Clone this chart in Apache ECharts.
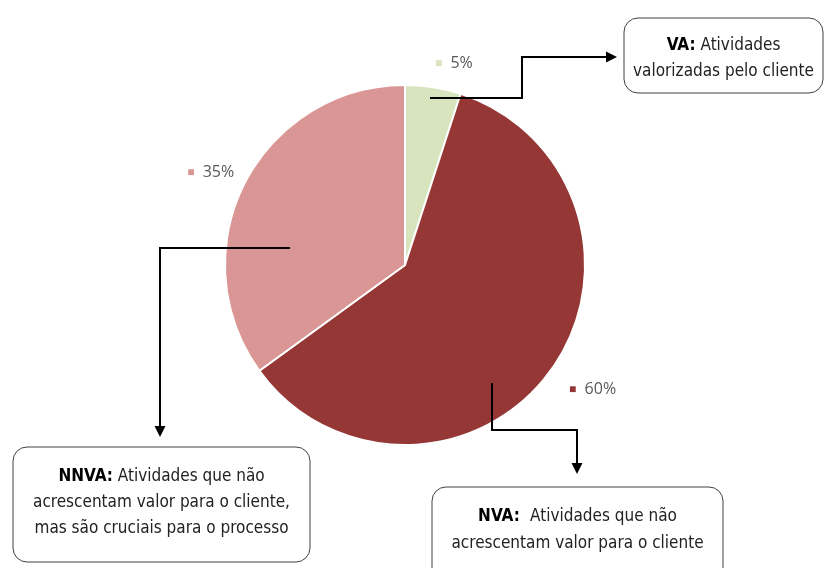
<!DOCTYPE html>
<html>
<head>
<meta charset="utf-8">
<script src="https://cdn.jsdelivr.net/npm/echarts@6/dist/echarts.min.js"></script>
<style>html,body{margin:0;padding:0;background:#fff}#c{width:827px;height:568px}</style>
</head>
<body>
<div id="c"></div>
<script>
const categories = ['VA', 'NVA', 'NNVA'];
const values = [5, 60, 35];
const colors = ['#d7e4bd', '#953735', '#d99694'];
const boxTitles = ['VA:', 'NVA: ', 'NNVA:'];
const boxTexts = [
  ['Atividades', 'valorizadas pelo cliente'],
  ['Atividades que não', 'acrescentam valor para o cliente'],
  ['Atividades que não', 'acrescentam valor para o cliente,', 'mas são cruciais para o processo']
];
const labelNudge = [[-11, 0], [-10, 5], [20, 0]];

const FONT = '"Liberation Sans Narrow", "DejaVu Sans Condensed", "Liberation Sans", sans-serif';
const chart = echarts.init(document.getElementById('c'), null, {renderer: 'canvas'});

function arrow(points, tip, dir) {
  const s = 11, w = 5.5;
  let tri;
  if (dir === 'right') tri = [[tip[0], tip[1]], [tip[0] - s, tip[1] - w], [tip[0] - s, tip[1] + w]];
  else tri = [[tip[0], tip[1]], [tip[0] - w, tip[1] - s], [tip[0] + w, tip[1] - s]];
  return [
    {type: 'polyline', shape: {points: points}, style: {stroke: '#000', lineWidth: 2, fill: null}, z: 10},
    {type: 'polygon', shape: {points: tri}, style: {fill: '#000'}, z: 10}
  ];
}

function box(x, y, w, h, idx, lineY) {
  const els = [{type: 'rect', shape: {x: x, y: y, width: w, height: h, r: 14},
    style: {fill: '#fff', stroke: '#404040', lineWidth: 1}, z: 5}];
  const lines = boxTexts[idx];
  lines.forEach((t, i) => {
    const txt = i === 0 ? '{b|' + boxTitles[idx] + '} ' + t : t;
    els.push({type: 'text', x: x + w / 2, y: lineY[i], z: 6,
      style: {text: txt, align: 'center', verticalAlign: 'middle', fill: '#222',
        font: '17px ' + FONT,
        rich: {b: {fontWeight: 'bold', fontSize: 17, fontFamily: FONT, fill: '#000'}}}});
  });
  return els;
}

const graphics = [].concat(
  arrow([[430, 98], [522, 98], [522, 57], [610, 57]], [617, 57], 'right'),
  arrow([[290, 248], [160, 248], [160, 430]], [160, 437], 'down'),
  arrow([[492, 383], [492, 430], [577, 430], [577, 467]], [577, 474], 'down'),
  box(624, 18, 199, 75, 0, [46, 72]),
  box(13, 447, 297, 115, 2, [477, 503, 529]),
  box(432, 487, 291, 95, 1, [517, 544])
);

chart.setOption({
  animation: false,
  series: [{
    type: 'pie',
    center: [405, 265],
    radius: 180,
    startAngle: 90,
    clockwise: true,
    data: categories.map((c, i) => ({name: c, value: values[i], itemStyle: {color: colors[i]}})),
    itemStyle: {borderColor: '#fff', borderWidth: 2},
    label: {
      show: true, position: 'outside',
      formatter: p => '{s|■}  ' + p.value + '%',
      color: '#595959', fontSize: 16, fontFamily: '"Open Sans", "Liberation Sans", sans-serif',
      rich: {s: {color: 'inherit', fontSize: 12}}
    },
    labelLine: {show: false, length: 24, length2: 4},
    labelLayout: p => ({dx: labelNudge[p.dataIndex][0], dy: labelNudge[p.dataIndex][1]}),
    emphasis: {disabled: true}
  }],
  graphic: graphics
});
</script>
</body>
</html>
